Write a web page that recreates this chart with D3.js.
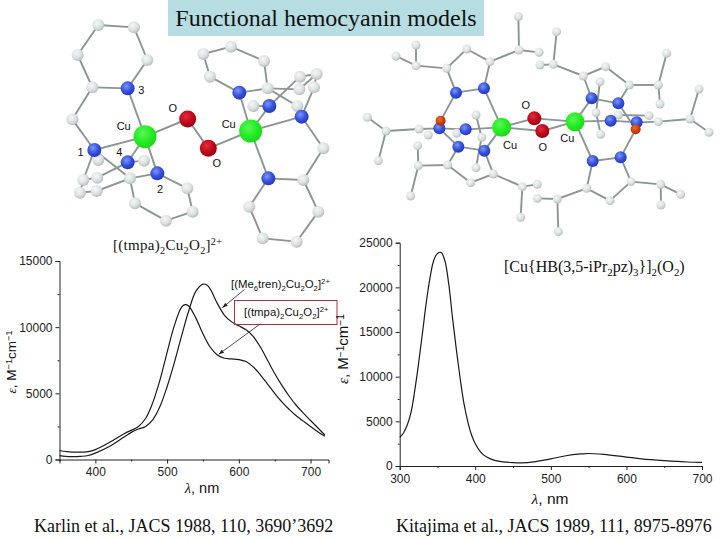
<!DOCTYPE html>
<html><head><meta charset="utf-8">
<script src="https://cdn.jsdelivr.net/npm/d3@7/dist/d3.min.js"></script>
<style>
html,body{margin:0;padding:0;background:#fff}
svg{display:block}
text{fill:#111}
.ax text{font:12px "Liberation Sans",sans-serif;fill:#222}
.ax path,.ax line{stroke:#222;stroke-width:1}
.serif{font-family:"Liberation Serif",serif}
.sans{font-family:"Liberation Sans",sans-serif}
</style></head><body><svg id="c" width="720" height="540"></svg>
<script>
// ---- spectra, left panel
const karlinWave=[350,360,375,390,400,420,440,460,470,480,490,500,510,520,525,530,540,550,560,570,580,590,600,610,620,630,640,650,660,670,680,690,700,710,720];
const karlinTmpa=[680,600,560,600,750,1300,1950,2500,3100,4300,6000,8100,10100,11500,11700,11600,10700,9500,8500,7900,7650,7600,7550,7400,7000,6400,5700,5000,4350,3800,3300,2900,2500,2100,1750];
const meWave=[350,365,380,390,400,420,440,450,460,470,480,490,500,510,520,530,540,550,555,560,570,580,590,600,610,620,630,640,650,660,670,680,690,700,710,720];
const karlinMe=[300,220,240,300,480,1000,1700,2050,2300,2500,3000,4000,5500,7300,9300,11200,12700,13250,13200,12900,11800,10900,10400,10100,9800,9300,8500,7500,6500,5600,4800,4100,3500,2950,2400,1850];
const leftXTicks=[400,500,600,700], leftXMinor=[350,450,550,650];
const leftYTicks=[0,5000,10000,15000], leftYMinor=[2500,7500,12500];
// ---- spectra, right panel
const kitaWave=[300,305,310,315,320,325,330,335,340,345,350,355,360,365,370,375,380,385,390,395,400,410,420,430,450,460,480,500,520,540,550,570,600,620,650,680,700];
const kitaEps=[3200,3700,4600,6000,8500,11500,14800,18200,21000,23000,23800,23900,22900,20300,16500,13000,9800,7000,5000,3500,2500,1300,800,550,380,350,500,800,1150,1350,1400,1300,1000,800,600,450,400];
const rightXTicks=[300,400,500,600,700], rightXMinor=[350,450,550,650];
const rightYTicks=[0,5000,10000,15000,20000,25000], rightYMinor=[2500,7500,12500,17500,22500];
// ---- texts
const titleText="Functional hemocyanin models";
const citeLeft="Karlin et al., JACS 1988, 110, 3690’3692";
const citeRight="Kitajima et al., JACS 1989, 111, 8975-8976";
// ---- ball-and-stick molecule A, read in crop units
const aC=[[175,75],[282,82],[113,165],[322,180],[157,262],[97,358],[175,480],[270,535],[442,565],[458,635],[378,662],[285,610],[312,482],[130,540],[172,533],[120,578],[170,573],
[490,162],[573,140],[672,183],[510,230],[683,265],[830,222],[780,230],[778,268],[822,262],[640,318],[772,318],[850,445],[790,540],[835,635],[770,725],[668,715],[628,620]];
const aN=[[263,265],[163,450],[352,520],[263,487],[598,278],[688,318],[785,350],[685,535]];
const aCu=[[315,410],[632,393]];
const aO=[[443,357],[505,445]];
const aBonds=[[175,75,282,82],[282,82,322,180],[322,180,263,265],[263,265,157,262],[157,262,113,165],[113,165,175,75],[157,262,97,358],[97,358,163,450],[163,450,315,410],[263,265,315,410],[315,410,443,357],[443,357,505,445],[505,445,632,393],[315,410,352,520],[315,410,263,487],[163,450,270,535],[270,535,352,520],[352,520,442,565],[442,565,458,635],[458,635,378,662],[378,662,285,610],[285,610,270,535],[263,487,312,482],[163,450,130,540],[130,540,120,578],[120,578,170,573],[170,573,270,535],[172,533,263,487],[130,540,172,533],
[632,393,598,278],[632,393,688,318],[632,393,785,350],[632,393,685,535],[598,278,510,230],[510,230,490,162],[490,162,573,140],[573,140,672,183],[672,183,683,265],[683,265,598,278],[683,265,772,318],[772,318,785,350],[640,318,688,318],[688,318,780,230],[780,230,830,222],[830,222,822,262],[822,262,785,350],[683,265,778,268],[778,268,830,222],[785,350,850,445],[850,445,790,540],[790,540,685,535],[790,540,835,635],[835,635,770,725],[770,725,668,715],[668,715,628,620],[628,620,685,535]];
const aLabels=[["3",304,270],["O",398,325],["Cu",251,378],["Cu",566,373],["1",122,456],["4",238,455],["2",360,566],["O",530,490]];
// ---- ball-and-stick molecule B, read in crop units
const bC=[[505,50],[507,150],[567,157],[420,185],[350,147],[290,205],[198,197],[138,168],[198,135],[108,393],[52,352],[85,482],[207,387],[235,405],[320,400],[378,345],[395,412],[378,503],[203,437],[205,497],[182,588],[293,495],[362,548],[430,522],[517,560],[562,553],[512,652],
[620,95],[610,193],[570,195],[700,228],[767,200],[838,255],[925,255],[950,160],[930,312],[750,245],[738,338],[805,345],[897,347],[925,365],[1020,357],[1047,267],[1077,397],[752,403],[843,545],[932,553],[992,583],[933,615],[780,602],[710,565],[622,597],[562,595],[625,695]];
const bN=[[318,278],[402,265],[268,385],[347,388],[325,440],[403,452],[725,295],[805,310],[782,362],[860,367],[728,483],[812,472]];
const bCu=[[455,382],[675,365]];
const bO=[[553,355],[577,393]];
const bBoron=[[272,362],[857,388]];
const bBonds=[[505,50,507,150],[507,150,567,157],[507,150,420,185],[420,185,350,147],[350,147,290,205],[290,205,198,197],[198,197,138,168],[198,197,198,135],[290,205,318,278],[318,278,402,265],[402,265,420,185],[402,265,455,382],[318,278,272,362],[272,362,268,385],[108,393,52,352],[108,393,85,482],[108,393,207,387],[207,387,268,385],[268,385,347,388],[347,388,455,382],[347,388,320,400],[378,345,395,412],[395,412,378,503],[268,385,325,440],[325,440,403,452],[403,452,455,382],[403,452,430,522],[325,440,293,495],[293,495,205,497],[205,497,203,437],[205,497,182,588],[293,495,362,548],[362,548,430,522],[430,522,517,560],[517,560,562,553],[517,560,512,652],
[455,382,553,355],[455,382,577,393],[553,355,675,365],[577,393,675,365],[675,365,725,295],[675,365,782,362],[675,365,728,483],[725,295,805,310],[725,295,700,228],[700,228,610,193],[610,193,620,95],[610,193,570,195],[700,228,767,200],[767,200,838,255],[838,255,805,310],[838,255,925,255],[925,255,950,160],[925,255,930,312],[805,310,857,388],[750,245,738,338],[738,338,752,403],[782,362,860,367],[860,367,925,365],[925,365,1020,357],[1020,357,1047,267],[1020,357,1077,397],[805,345,897,347],[857,388,812,472],[812,472,728,483],[812,472,843,545],[843,545,932,553],[932,553,992,583],[932,553,933,615],[843,545,780,602],[780,602,710,565],[710,565,728,483],[710,565,622,597],[622,597,562,595],[622,597,625,695]];
const bLabels=[["O",527,315],["Cu",480,435],["O",578,440],["Cu",652,415]];

const svg=d3.select("#c");
const defs=svg.append("defs");
function grad(id,hi,mid,lo){const g=defs.append("radialGradient").attr("id",id).attr("cx","40%").attr("cy","35%").attr("r","70%");
 g.append("stop").attr("offset","0%").attr("stop-color",hi);g.append("stop").attr("offset","55%").attr("stop-color",mid);g.append("stop").attr("offset","100%").attr("stop-color",lo);}
grad("gC","#f4f7f7","#dce2e1","#b0b9b7");
grad("gN","#7f96f5","#3450e0","#2336a8");
grad("gCu","#5cf55c","#22ee22","#1fd41f");
grad("gO","#e03040","#c00818","#8e0512");
grad("gB","#f07020","#d04010","#a02808");
defs.append("marker").attr("id","ah").attr("viewBox","0 0 8 6").attr("refX",8).attr("refY",3).attr("markerWidth",7).attr("markerHeight",5).attr("orient","auto")
 .append("path").attr("d","M0,0L8,3L0,6Z").attr("fill","#222");

function molecule(ox,oy,set){
 const sx=d3.scaleLinear().domain([0,3]).range([ox,ox+1]), sy=d3.scaleLinear().domain([0,3]).range([oy,oy+1]);
 const g=svg.append("g");
 g.selectAll("line").data(set.bonds).join("line").attr("x1",d=>sx(d[0])).attr("y1",d=>sy(d[1])).attr("x2",d=>sx(d[2])).attr("y2",d=>sy(d[3])).attr("stroke","#8b9593").attr("stroke-width",1.9);
 set.atoms.forEach(a=>g.append("g").selectAll("circle").data(a.pts).join("circle").attr("cx",d=>sx(d[0])).attr("cy",d=>sy(d[1])).attr("r",a.r).attr("fill",`url(#${a.f})`));
 g.selectAll("text").data(set.labels).join("text").attr("class","sans").attr("x",d=>sx(d[1])).attr("y",d=>sy(d[2])).attr("text-anchor","middle").attr("dy","0.35em").attr("font-size",11).text(d=>d[0]);
}
molecule(40,0,{bonds:aBonds,labels:aLabels,atoms:[{pts:aC,r:6,f:"gC"},{pts:aN,r:7,f:"gN"},{pts:aO,r:8.5,f:"gO"},{pts:aCu,r:11.5,f:"gCu"}]});
molecule(350,0,{bonds:bBonds,labels:bLabels,atoms:[{pts:bC,r:4.5,f:"gC"},{pts:bN,r:6,f:"gN"},{pts:bBoron,r:5,f:"gB"},{pts:bO,r:7,f:"gO"},{pts:bCu,r:9.5,f:"gCu"}]});

// title
svg.append("rect").attr("x",168).attr("y",0).attr("width",316).attr("height",36).attr("fill","#b6dde1");
svg.append("text").attr("class","serif").attr("x",326).attr("y",26).attr("text-anchor","middle").attr("font-size",24).text(titleText);

function withShift(x,y,parts,size){
 // parts: [text, level] level -1 subscript, 1 superscript, 0 base
 const t=svg.append("text").attr("x",x).attr("y",y).attr("font-size",size);
 let cur=0;
 parts.forEach(p=>{const lvl=p[1]||0;const target=lvl*size*(lvl<0?0.25:0.35);
  t.append("tspan").attr("dy",-(target-cur)).attr("font-size",lvl?size*0.68:size).text(p[0]);cur=target;});
 return t;
}
withShift(113,250,[["[(tmpa)"],["2",-1],["Cu"],["2",-1],["O"],["2",-1],["]"],["2+",1]],15).attr("class","serif").attr("letter-spacing",0.3);
withShift(504,272,[["[Cu{HB(3,5-iPr"],["2",-1],["pz)"],["3",-1],["}]"],["2",-1],["(O"],["2",-1],[")"]],16).attr("class","serif");

function panel(xd,xr,yd,yr,xt,xm,yt,ym){
 const x=d3.scaleLinear().domain(xd).range(xr), y=d3.scaleLinear().domain(yd).range(yr);
 const gx=svg.append("g").attr("class","ax").attr("transform",`translate(0,${yr[0]})`);
 gx.call(d3.axisBottom(x).tickValues(xt).tickFormat(d3.format("d")).tickSize(4).tickPadding(4));
 gx.append("g").call(d3.axisBottom(x).tickValues(xm).tickFormat("").tickSize(2)).select(".domain").remove();
 const gy=svg.append("g").attr("class","ax").attr("transform",`translate(${xr[0]},0)`);
 gy.call(d3.axisLeft(y).tickValues(yt).tickFormat(d3.format("d")).tickSize(4).tickPadding(3));
 gy.append("g").call(d3.axisLeft(y).tickValues(ym).tickFormat("").tickSize(2)).select(".domain").remove();
 return {x,y};
}
const curve=(x,y)=>d3.line().x(d=>x(d[0])).y(d=>y(d[1])).curve(d3.curveCatmullRom.alpha(0.5));
const style=s=>s.attr("fill","none").attr("stroke","#1a1a1a").attr("stroke-width",1.2);

// left panel
const L=panel([350,725],[59.5,328.5],[0,15000],[459.5,261],leftXTicks,leftXMinor,leftYTicks,leftYMinor);
svg.append("path").attr("d",curve(L.x,L.y)(d3.zip(karlinWave,karlinTmpa))).call(style);
svg.append("path").attr("d",curve(L.x,L.y)(d3.zip(meWave,karlinMe))).call(style);
svg.append("rect").attr("x",234.5).attr("y",300.5).attr("width",102.5).attr("height",24).attr("fill","none").attr("stroke","#b03040").attr("stroke-width",1);
const note=(x,y,parts)=>withShift(x,y,parts,11.4).attr("class","sans");
note(231,288,[["[(Me"],["6",-1],["tren)"],["2",-1],["Cu"],["2",-1],["O"],["2",-1],["]"],["2+",1]]);
note(244,316,[["[(tmpa)"],["2",-1],["Cu"],["2",-1],["O"],["2",-1],["]"],["2+",1]]);
const arrow=(a,b)=>svg.append("line").attr("x1",L.x(a[0])).attr("y1",L.y(a[1])).attr("x2",L.x(b[0])).attr("y2",L.y(b[1])).attr("stroke","#222").attr("stroke-width",0.8).attr("marker-end","url(#ah)");
arrow([608,12850],[577,11470]);
arrow([630,10250],[572,7950]);
function ytitle(cx,cy,size){
 const t=svg.append("text").attr("transform",`translate(${cx},${cy}) rotate(-90)`).attr("text-anchor","middle").attr("class","sans").attr("font-size",size);
 t.append("tspan").attr("class","serif").attr("font-style","italic").text("ε");
 t.append("tspan").text(", M");
 t.append("tspan").attr("dy",-4).attr("font-size",size*0.68).text("−1");
 t.append("tspan").attr("dy",4).text("cm");
 t.append("tspan").attr("dy",-4).attr("font-size",size*0.68).text("−1");
}
function xtitle(cx,cy,size){
 const t=svg.append("text").attr("x",cx).attr("y",cy).attr("text-anchor","middle").attr("class","sans").attr("font-size",size);
 t.append("tspan").attr("class","serif").attr("font-style","italic").text("λ");
 t.append("tspan").text(", nm");
}
ytitle(16,362,13.5); xtitle(202,493,14.5);

// right panel
const R=panel([300,700],[399.7,702],[0,25000],[466,242.7],rightXTicks,rightXMinor,rightYTicks,rightYMinor);
svg.append("path").attr("d",curve(R.x,R.y)(d3.zip(kitaWave,kitaEps))).call(style);
ytitle(348,349,15); xtitle(550,504,15.5);

// citations
svg.append("text").attr("class","serif").attr("x",34).attr("y",532).attr("font-size",18).text(citeLeft);
svg.append("text").attr("class","serif").attr("x",396).attr("y",532).attr("font-size",18).text(citeRight);
</script></body></html>
